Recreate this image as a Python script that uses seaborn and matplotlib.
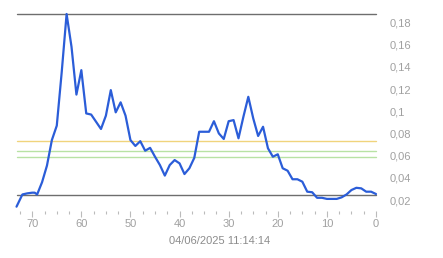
import matplotlib
matplotlib.use("Agg")
import matplotlib.pyplot as plt
import matplotlib.ticker as mticker
import seaborn as sns
import pandas as pd

# Data (x = minutes ago, y = value)
x_vals = [73.2, 72, 71, 70, 69.5, 69, 68, 67, 66, 65, 64, 63, 62, 61, 60, 59, 58, 57, 56, 55,
          54, 53, 52, 51, 50, 49, 48, 47, 46, 45, 44, 43, 42, 41, 40, 39, 38, 37, 36, 35,
          34, 33, 32, 31, 30, 29, 28, 27, 26, 25, 24, 23, 22, 21, 20, 19, 18, 17, 16, 15,
          14, 13, 12, 11, 10, 9, 8, 7, 6, 5, 4, 3, 2, 1, 0]
y_vals = [0.014, 0.025, 0.026, 0.0266, 0.0266, 0.025, 0.036, 0.051, 0.074, 0.087, 0.135, 0.1876, 0.158, 0.115, 0.137, 0.098, 0.097, 0.0905, 0.084, 0.096,
          0.119, 0.099, 0.108, 0.096, 0.074, 0.0687, 0.073, 0.0644, 0.067, 0.059, 0.0515, 0.042, 0.0515, 0.056, 0.053, 0.0434, 0.0486, 0.058, 0.0815, 0.0815,
          0.0815, 0.091, 0.080, 0.075, 0.091, 0.092, 0.0756, 0.095, 0.113, 0.0936, 0.0777, 0.086, 0.0666, 0.059, 0.0612, 0.0486, 0.0464, 0.0387, 0.0387, 0.0365,
          0.0275, 0.027, 0.022, 0.022, 0.021, 0.021, 0.021, 0.0224, 0.025, 0.029, 0.031, 0.0305, 0.0275, 0.0275, 0.0254]

ref_gray = [0.1873, 0.0242]
ref_yellow = [0.0732]
ref_green = [0.0638, 0.0587]

x_major = [0, 10, 20, 30, 40, 50, 60, 70]
y_ticks = [0.02, 0.04, 0.06, 0.08, 0.1, 0.12, 0.14, 0.16, 0.18]
timestamp = "04/06/2025 11:14:14"

sns.set_theme(style="white")
plt.rcParams['font.family'] = ['Liberation Sans', 'DejaVu Sans']

W, H = 443, 258
fig = plt.figure(figsize=(W / 100, H / 100), dpi=100)
left_px, right_px, top_px, bottom_px = 17, 376, 10, 211
ax = fig.add_axes([left_px / W, 1 - bottom_px / H, (right_px - left_px) / W, (bottom_px - top_px) / H])

for v in ref_gray:
    ax.axhline(v, color="#6e6e6e", lw=1.0, zorder=1)
for v in ref_yellow:
    ax.axhline(v, color="#f0d47c", lw=1.0, zorder=1)
for v in ref_green:
    ax.axhline(v, color="#b8e2a4", lw=1.0, zorder=1)

df = pd.DataFrame({"x": x_vals, "y": y_vals})
sns.lineplot(data=df, x="x", y="y", ax=ax, color="#2b5dd8", lw=1.6, zorder=3, sort=False)
for l in ax.lines:
    l.set_clip_on(False)

ax.set_xlim(73.1, 0)
ax.set_ylim(0.0101, 0.1912)
for s in ax.spines.values():
    s.set_visible(False)

ax.set_xticks(x_major)
ax.xaxis.set_minor_locator(mticker.MultipleLocator(2.5))
ax.tick_params(axis="x", which="major", bottom=True, length=4, width=0.8, color="#bbbbbb",
               labelsize=8, labelcolor="#a0a0a0", pad=2, direction="out")
ax.tick_params(axis="x", which="minor", bottom=True, length=2, width=0.8, color="#bbbbbb", direction="out")

ax.yaxis.tick_right()
ax.set_yticks(y_ticks)
ax.set_yticklabels([("%g" % v).replace(".", ",") for v in y_ticks])
ax.tick_params(axis="y", which="both", right=False, left=False, labelsize=8, labelcolor="#a0a0a0", pad=4)
ax.set_xlabel("")
ax.set_ylabel("")
ax.grid(False)

fig.text(220 / W, 1 - 241 / H, timestamp, ha="center", va="center", fontsize=8, color="#8c8c8c")

fig.savefig("out.png", dpi=100)
